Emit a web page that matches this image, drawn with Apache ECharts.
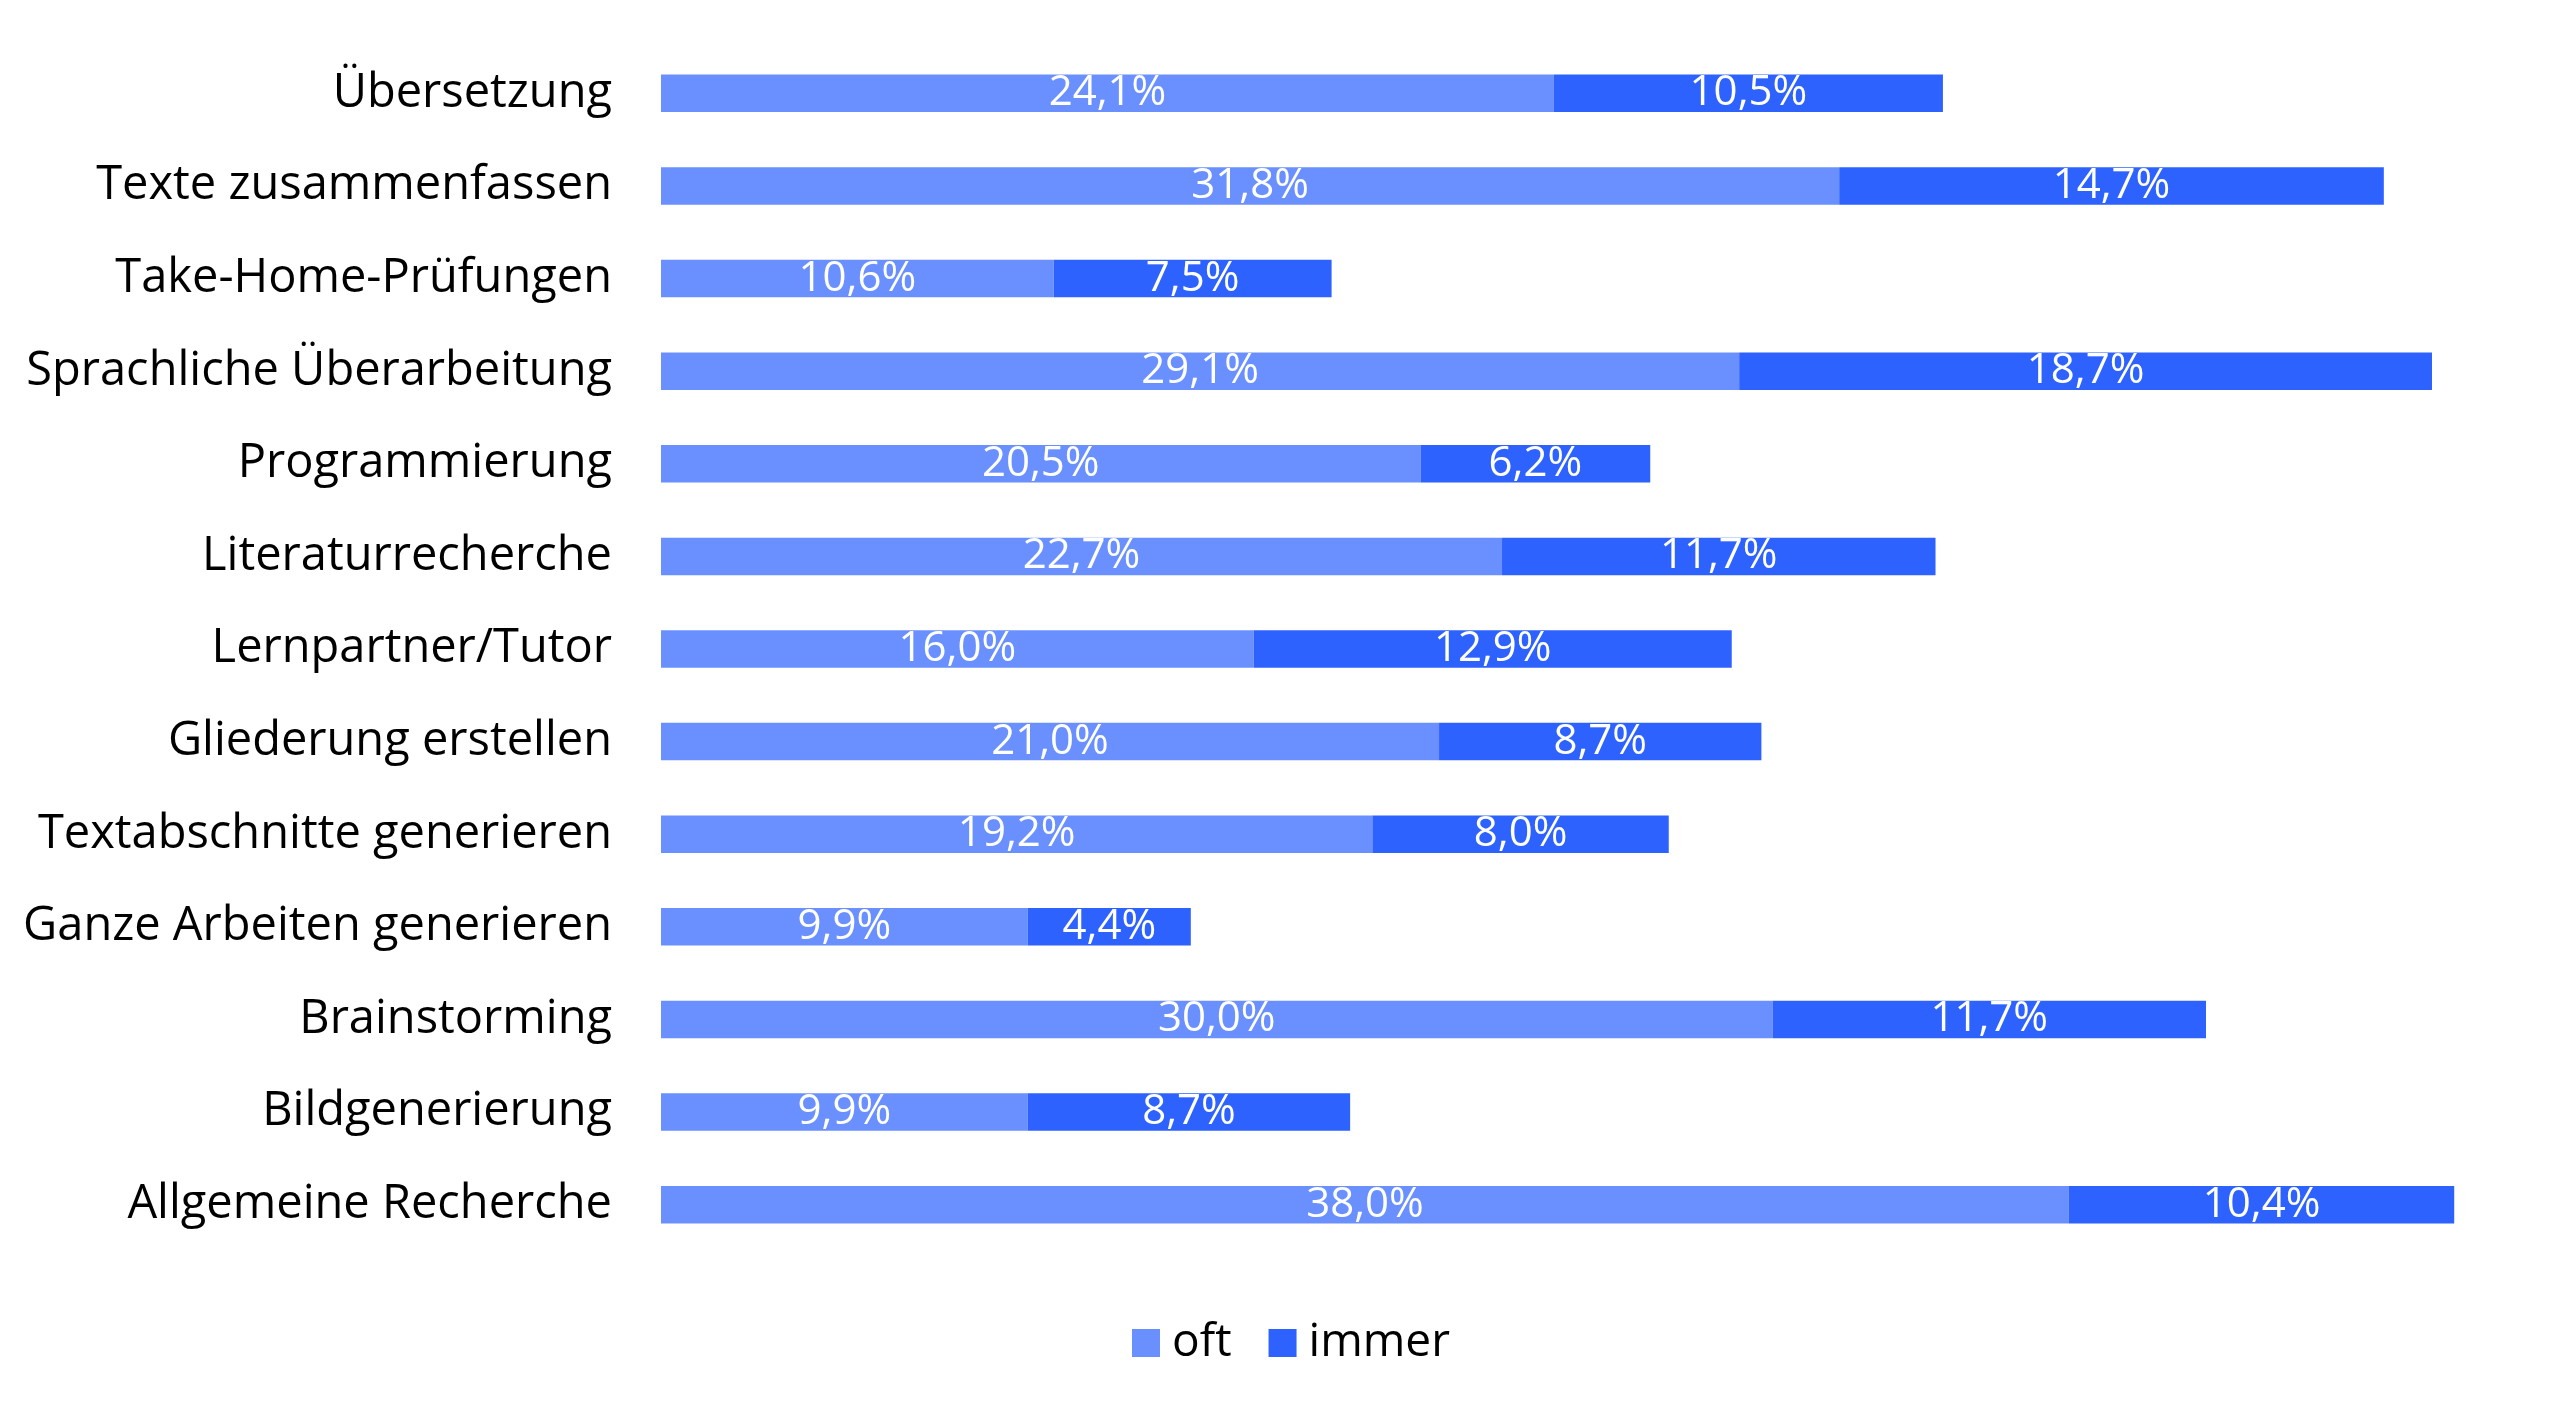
<!DOCTYPE html>
<html>
<head>
<meta charset="utf-8">
<script src="https://cdn.jsdelivr.net/npm/echarts@6/dist/echarts.min.js"></script>
<style>
html,body{margin:0;padding:0;background:#fff;}
#chart{width:2560px;height:1407px;}
</style>
</head>
<body>
<div id="chart"></div>
<script>
const categories = [
  "Übersetzung",
  "Texte zusammenfassen",
  "Take-Home-Prüfungen",
  "Sprachliche Überarbeitung",
  "Programmierung",
  "Literaturrecherche",
  "Lernpartner/Tutor",
  "Gliederung erstellen",
  "Textabschnitte generieren",
  "Ganze Arbeiten generieren",
  "Brainstorming",
  "Bildgenerierung",
  "Allgemeine Recherche"
];
const oft =   [24.1, 31.8, 10.6, 29.1, 20.5, 22.7, 16.0, 21.0, 19.2, 9.9, 30.0, 9.9, 38.0];
const immer = [10.5, 14.7, 7.5, 18.7, 6.2, 11.7, 12.9, 8.7, 8.0, 4.4, 11.7, 8.7, 10.4];
const seriesNames = ["oft", "immer"];

const FONT = "Open Sans";
const fmt = p => p.value.toFixed(1).replace('.', ',') + '%';

const chart = echarts.init(document.getElementById('chart'), null, {renderer: 'canvas'});
chart.setOption({
  backgroundColor: '#ffffff',
  animation: false,
  textStyle: {fontFamily: FONT},
  grid: {left: 661, right: 46.5, top: 47, bottom: 156},
  xAxis: {
    type: 'value', min: 0, max: 50, interval: 5,
    show: false
  },
  yAxis: {
    type: 'category', data: categories, inverse: true,
    axisLine: {show: false}, axisTick: {show: false}, splitLine: {show: false},
    axisLabel: {color: '#000000', fontSize: 47, fontFamily: FONT, margin: 49}
  },
  legend: {
    data: seriesNames,
    left: 1132, top: 1320, padding: 0,
    icon: 'rect', itemWidth: 28, itemHeight: 28, itemGap: 37,
    textStyle: {fontSize: 46, color: '#000000', fontFamily: FONT, lineHeight: 46, padding: [0, 0, 0, 7]}
  },
  series: [
    {
      name: seriesNames[0], type: 'bar', stack: 'total', data: oft, barWidth: 37.5,
      itemStyle: {color: '#6A90FF'},
      label: {show: true, position: 'inside', color: '#ffffff', fontSize: 42, fontFamily: FONT, formatter: fmt}
    },
    {
      name: seriesNames[1], type: 'bar', stack: 'total', data: immer, barWidth: 37.5,
      itemStyle: {color: '#2E62FF'},
      label: {show: true, position: 'inside', color: '#ffffff', fontSize: 42, fontFamily: FONT, formatter: fmt}
    }
  ]
});
</script>
</body>
</html>
